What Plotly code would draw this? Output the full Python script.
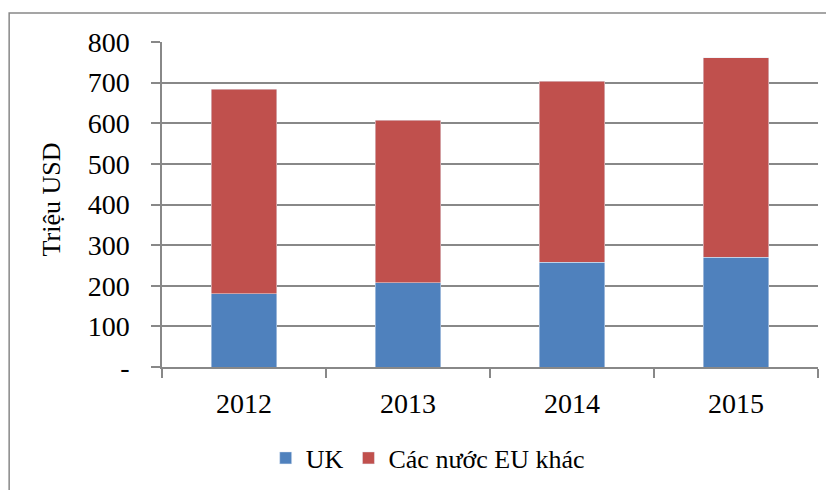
import plotly.graph_objects as go

years = ["2012", "2013", "2014", "2015"]
uk = [180, 207, 258, 270]
eu_other = [504, 401, 445, 491]
series_names = ["UK", "Các nước EU khác"]
y_ticks = [0, 100, 200, 300, 400, 500, 600, 700, 800]
y_tick_labels = ["-", "100", "200", "300", "400", "500", "600", "700", "800"]

FONT = "Liberation Serif"
GRID = "#888888"

fig = go.Figure()
fig.add_trace(go.Bar(x=years, y=uk, name=series_names[0], marker_color="#4F81BD", width=0.4))
fig.add_trace(go.Bar(x=years, y=eu_other, name=series_names[1], marker_color="#C0504D", width=0.4))

# page body adds an 8px offset; margins compensate so the plot area sits at x 162-818, y 42-367
fig.update_layout(
    barmode="stack",
    width=834, height=490,
    margin=dict(l=154, r=24, t=34, b=131),
    paper_bgcolor="white", plot_bgcolor="white",
    font=dict(family=FONT, size=28, color="black"),
    showlegend=True,
    legend=dict(orientation="h", x=0.405, xanchor="center", y=-0.28, yanchor="middle",
                font=dict(family=FONT, size=26), itemwidth=30, traceorder="normal"),
    xaxis=dict(showline=True, linecolor=GRID, linewidth=1.5, ticks="outside", ticklen=9,
               tickcolor=GRID, tickwidth=1.5, tickson="boundaries", showgrid=False,
               ticklabelstandoff=11, tickfont=dict(size=28)),
    yaxis=dict(range=[0, 800], tickvals=y_ticks, ticktext=y_tick_labels,
               showline=True, linecolor=GRID, linewidth=1.5, ticks="outside", ticklen=9,
               tickcolor=GRID, tickwidth=1.5, showgrid=True, gridcolor=GRID, gridwidth=1.5,
               zeroline=False, ticklabelstandoff=16, tickfont=dict(size=28)),
)

fig.add_annotation(text="Triệu USD", xref="paper", yref="paper", x=-0.168, y=0.515,
                   xanchor="center", yanchor="middle",
                   textangle=-90, showarrow=False, font=dict(family=FONT, size=26))

# outer chart border
fig.add_shape(type="rect", xref="paper", yref="paper", x0=-0.233, x1=1.2, y0=-0.6, y1=1.089,
              line=dict(color=GRID, width=1.5), layer="below")
# y axis line extends slightly below x axis
fig.add_shape(type="line", xref="paper", yref="paper", x0=0, x1=0, y0=0, y1=-0.028,
              line=dict(color=GRID, width=1.5))

fig.write_html("out.html")
